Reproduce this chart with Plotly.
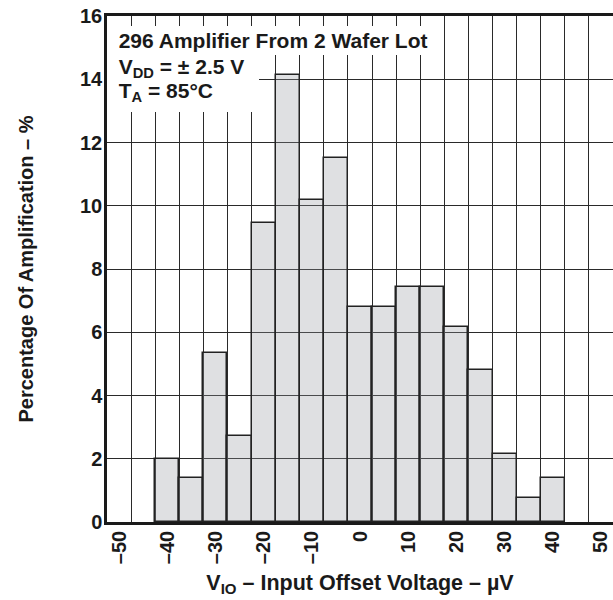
import plotly.graph_objects as go

# Data
bin_centers = [-40, -35, -30, -25, -20, -15, -10, -5, 0, 5, 10, 15, 20, 25, 30, 35, 40]
percentages = [2.0, 1.4, 5.35, 2.72, 9.47, 14.15, 10.17, 11.5, 6.8, 6.8, 7.42, 7.42, 6.16, 4.8, 2.16, 0.76, 1.4]
bin_width = 5
x_tick_vals = [-50, -40, -30, -20, -10, 0, 10, 20, 30, 40, 50]
x_tick_text = ["–50", "–40", "–30", "–20", "–10", "0", "10", "20", "30", "40", "50"]
y_tick_vals = [0, 2, 4, 6, 8, 10, 12, 14, 16]
note_lines = [
    "296 Amplifier From 2 Wafer Lot",
    "V<sub>DD</sub> = ± 2.5 V",
    "T<sub>A</sub> = 85°C",
]

FONT = "Liberation Sans, Arial, sans-serif"
GRID = "#2a2a2a"
TXT = "#1a1a1a"

fig = go.Figure()
fig.add_trace(go.Bar(
    x=bin_centers,
    y=percentages,
    width=[bin_width] * len(bin_centers),
    marker=dict(color="rgba(150,153,160,0.30)", line=dict(color="#222222", width=1.5)),
    showlegend=False,
    hoverinfo="x+y",
))

fig.update_layout(
    width=613,
    height=600,
    margin=dict(l=107, r=0, t=16, b=78),
    paper_bgcolor="white",
    plot_bgcolor="white",
    bargap=0,
    font=dict(family=FONT, color=TXT),
    xaxis=dict(
        range=[-52.5, 52.5],
        tickmode="array",
        tickvals=x_tick_vals,
        ticktext=x_tick_text,
        tickangle=-90,
        tickfont=dict(family=FONT, size=20, color=TXT, weight="bold"),
        ticklabelstandoff=-2,
        showgrid=False,
        zeroline=False,
        showline=True,
        linecolor=TXT,
        linewidth=2.5,
        mirror=True,
        ticks="",
        minor=dict(tick0=-47.5, dtick=5, showgrid=True, gridcolor=GRID, gridwidth=1.2),
        title=dict(
            text="V<sub>IO</sub> – Input Offset Voltage – µV",
            font=dict(family=FONT, size=21.5, color=TXT, weight="bold"),
            standoff=12,
        ),
        layer="above traces",
    ),
    yaxis=dict(
        range=[0, 16],
        tickmode="array",
        tickvals=y_tick_vals,
        tickfont=dict(family=FONT, size=20, color=TXT, weight="bold"),
        ticklabelstandoff=-2,
        showgrid=True,
        gridcolor=GRID,
        gridwidth=1.2,
        zeroline=False,
        showline=True,
        linecolor=TXT,
        linewidth=2.5,
        mirror=False,
        ticks="",
        title=dict(
            text="Percentage Of Amplification – %",
            font=dict(family=FONT, size=20, color=TXT, weight="bold"),
            standoff=42,
        ),
        layer="above traces",
    ),
)

# Note block with white background covering the grid
boxes = [
    (1 - 10 / 506, 331, 29, "middle"),
    (1 - 39 / 506, 152, 28, "top"),
    (1 - 63 / 506, 152, 33, "top"),
]
for text, (by, bw, bh, va) in zip(note_lines, boxes):
    fig.add_annotation(
        xref="paper", yref="paper", x=0.0, y=by, xanchor="left", yanchor="top",
        text="\u00a0\u00a0" + text, showarrow=False, align="left", valign=va,
        width=bw, height=bh, bgcolor="white", borderpad=0, borderwidth=0,
        font=dict(family=FONT, size=21, color=TXT, weight="bold"),
    )

fig.write_html("out.html")
